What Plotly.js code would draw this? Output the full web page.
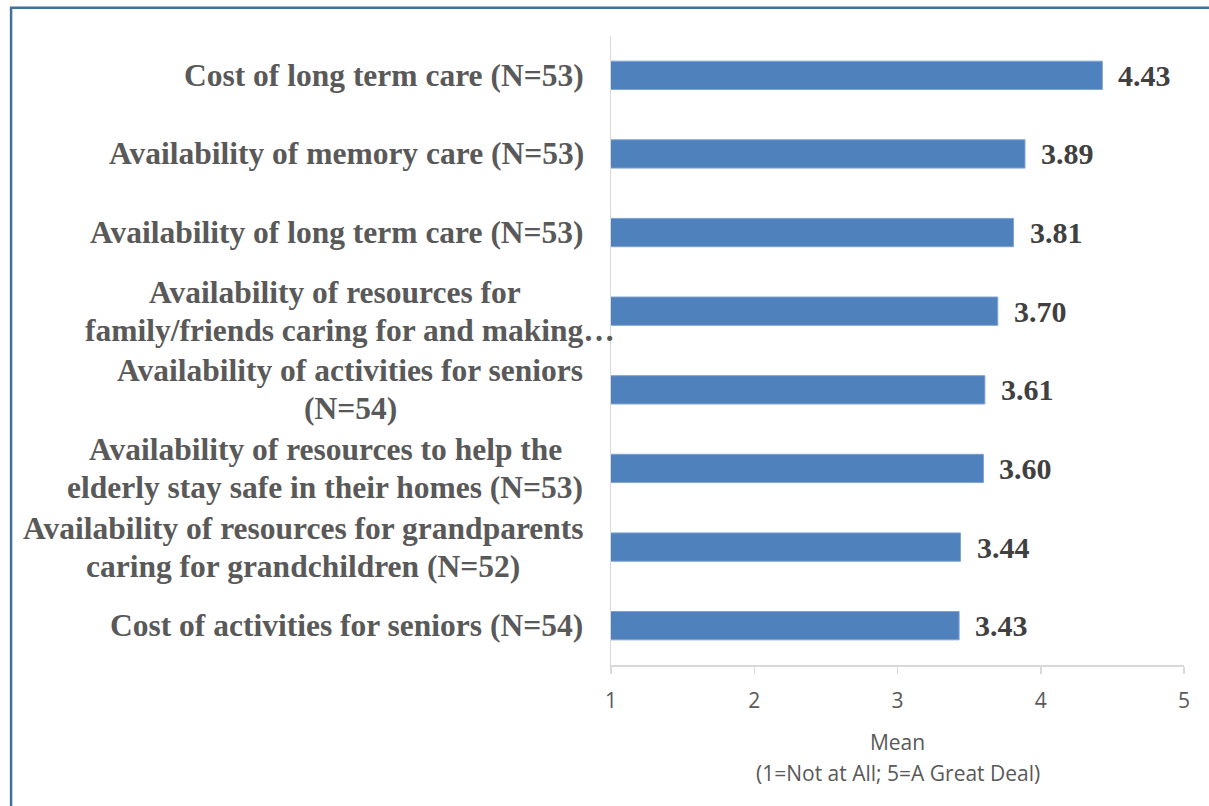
<!DOCTYPE html>
<html>
<head>
<meta charset="utf-8">
<script src="https://cdn.plot.ly/plotly-3.0.1.min.js"></script>
<style>html,body{margin:0;padding:0;background:#fff;}#chart{width:1209px;height:806px;}</style>
</head>
<body>
<div id="chart"></div>
<script>
// ---- data ----
const categories = [
  "Cost of long term care (N=53)",
  "Availability of memory care (N=53)",
  "Availability of long term care (N=53)",
  "Availability of resources for\nfamily/friends caring for and making…",
  "Availability of activities for seniors\n(N=54)",
  "Availability of resources to help the\nelderly stay safe in their homes (N=53)",
  "Availability of resources for grandparents\ncaring for grandchildren (N=52)",
  "Cost of activities for seniors (N=54)"
];
const means = [4.43, 3.89, 3.81, 3.70, 3.61, 3.60, 3.44, 3.43];
const valueLabels = ["4.43", "3.89", "3.81", "3.70", "3.61", "3.60", "3.44", "3.43"];
const xTicks = [1, 2, 3, 4, 5];
const xTitle = "Mean";
const xSubtitle = "(1=Not at All; 5=A Great Deal)";

// ---- styling ----
const labelFont = {family: "Liberation Serif", size: 31.5, color: "#595959"};
const valueFont = {family: "Liberation Serif", size: 30, color: "#404040"};
const axisFont = {family: "Open Sans", size: 21, color: "#595959"};
const lineGap = 38;

const canvas = document.createElement("canvas");
const ctx = canvas.getContext("2d");
ctx.font = "bold " + labelFont.size + "px 'Liberation Serif'";

const annotations = [];
categories.forEach((cat, i) => {
  const lines = cat.split("\n");
  // centre lines the way the source does: a trailing ellipsis overflows
  const trimmed = lines.map(l => l.replace(/…$/, ""));
  const widths = trimmed.map(l => ctx.measureText(l).width);
  const W = Math.max.apply(null, widths);
  lines.forEach((l, j) => {
    annotations.push({
      text: "<b>" + l + "</b>", xref: "paper", yref: "y", x: 0, y: cat,
      xanchor: "left", yanchor: "middle", showarrow: false,
      xshift: -29 - W / 2 - widths[j] / 2, yshift: -(j - (lines.length - 1) / 2) * lineGap,
      font: labelFont
    });
  });
});
means.forEach((v, i) => {
  annotations.push({
    text: "<b>" + valueLabels[i] + "</b>", xref: "x", yref: "y", x: v, y: categories[i],
    xanchor: "left", yanchor: "middle", showarrow: false, xshift: 14,
    font: valueFont
  });
});
annotations.push({
  text: xSubtitle, xref: "paper", yref: "paper", x: 0.5, y: -0.1717,
  xanchor: "center", yanchor: "middle", showarrow: false,
  font: axisFont
});

const trace = {
  type: "bar", orientation: "h", x: means, y: categories,
  marker: {color: "#4f81bd", line: {color: "#7fa3d3", width: 1}},
  hoverinfo: "x+y"
};

const layout = {
  width: 1209, height: 806,
  margin: {l: 611, r: 25, t: 36, b: 141, pad: 0},
  paper_bgcolor: "#fff", plot_bgcolor: "#fff",
  bargap: 0.64, showlegend: false,
  xaxis: {
    range: [1, 5], tickvals: xTicks, ticktext: xTicks.map(String),
    showgrid: false, zeroline: false, showline: true, linecolor: "#d9d9d9", linewidth: 1.5,
    ticks: "outside", ticklen: 7, tickcolor: "#d9d9d9", tickwidth: 1.5,
    tickfont: axisFont, ticklabelstandoff: 9,
    title: {text: xTitle, font: axisFont, standoff: 22}
  },
  yaxis: {
    type: "category", autorange: "reversed", showticklabels: false,
    showgrid: false, zeroline: false, showline: true, linecolor: "#d9d9d9", linewidth: 1.5,
    ticks: ""
  },
  annotations: annotations,
  shapes: [{
    type: "rect", xref: "paper", yref: "paper",
    x0: -1.047, x1: 1.06, y0: -0.25, y1: 1.045,
    line: {color: "#41719c", width: 2.5}, fillcolor: "rgba(0,0,0,0)", layer: "above"
  }]
};

Plotly.newPlot("chart", [trace], layout, {displayModeBar: false, staticPlot: true});
</script>
</body>
</html>
